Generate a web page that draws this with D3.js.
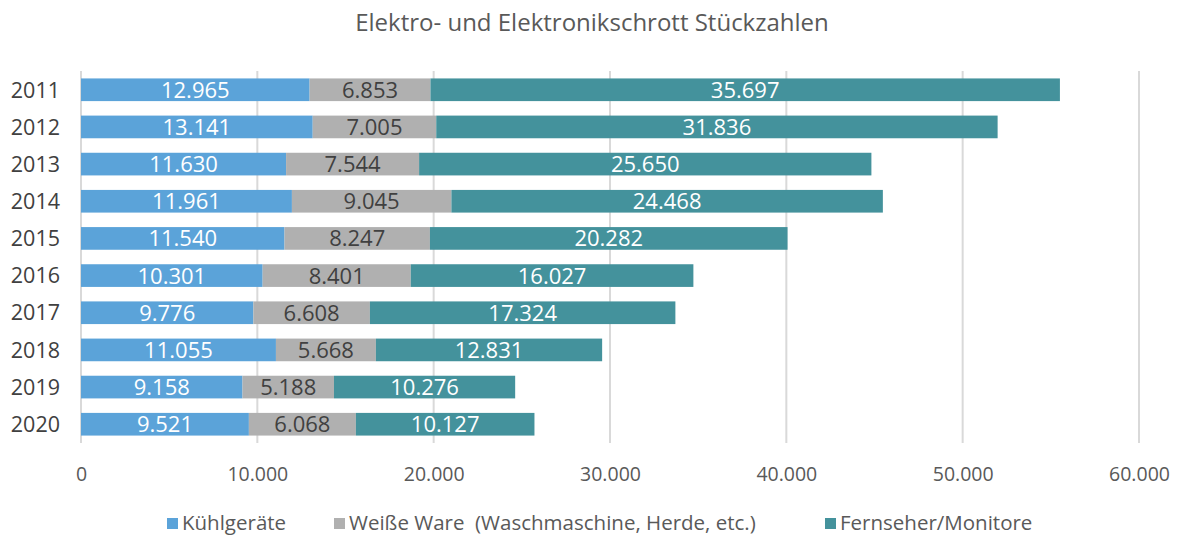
<!DOCTYPE html>
<html>
<head>
<meta charset="utf-8">
<script src="https://cdnjs.cloudflare.com/ajax/libs/d3/7.8.5/d3.min.js"></script>
<style>
  body { margin: 0; background: #fff; }
  text { font-family: "Open Sans", Lato, sans-serif; }
</style>
</head>
<body>
<div id="chart"></div>
<script>
// data
var years = ["2011", "2012", "2013", "2014", "2015", "2016", "2017", "2018", "2019", "2020"];
var kuehl = [12965, 13141, 11630, 11961, 11540, 10301, 9776, 11055, 9158, 9521];
var weiss = [6853, 7005, 7544, 9045, 8247, 8401, 6608, 5668, 5188, 6068];
var fernseher = [35697, 31836, 25650, 24468, 20282, 16027, 17324, 12831, 10276, 10127];
var seriesNames = ["Kühlgeräte", "Weiße Ware  (Waschmaschine, Herde, etc.)", "Fernseher/Monitore"];
var xTicks = [0, 10000, 20000, 30000, 40000, 50000, 60000];

var colors = ["#5ba3d9", "#b0b0b0", "#44929c"];
var labelColors = ["#ffffff", "#404040", "#ffffff"];

var W = 1182, H = 538;
var margin = {top: 71, right: 43, bottom: 95, left: 81};
var width = W - margin.left - margin.right,
    height = H - margin.top - margin.bottom;

var de = d3.formatLocale({decimal: ",", thousands: ".", grouping: [3], currency: ["", "€"]});
var fmt = de.format(",d");

var svg = d3.select("#chart").append("svg")
    .attr("width", W)
    .attr("height", H);

var g = svg.append("g")
    .attr("transform", "translate(" + margin.left + "," + margin.top + ")");

// build table for stacking
var rows = years.map(function(y, i) {
  return {year: y, k: kuehl[i], w: weiss[i], f: fernseher[i]};
});
var keys = ["k", "w", "f"];
var stacked = d3.stack().keys(keys)(rows);

var x = d3.scaleLinear().domain([0, 60000]).range([0, width]);
var y = d3.scaleBand().domain(years).range([0, height]).paddingInner(0.39).paddingOuter(0.2);

// gridlines
g.append("g")
  .selectAll("line")
  .data(xTicks)
  .enter().append("line")
    .attr("x1", function(d) { return x(d); })
    .attr("x2", function(d) { return x(d); })
    .attr("y1", 0)
    .attr("y2", height)
    .style("stroke", "#d9d9d9")
    .style("stroke-width", 2);

// bars
var layer = g.selectAll(".layer")
  .data(stacked)
  .enter().append("g")
    .attr("class", "layer")
    .style("fill", function(d, i) { return colors[i]; });

layer.selectAll("rect")
  .data(function(d) { return d; })
  .enter().append("rect")
    .attr("x", function(d) { return x(d[0]); })
    .attr("y", function(d) { return y(d.data.year); })
    .attr("width", function(d) { return x(d[1]) - x(d[0]); })
    .attr("height", y.bandwidth());

// data labels
stacked.forEach(function(s, i) {
  g.append("g").selectAll("text")
    .data(s)
    .enter().append("text")
      .attr("x", function(d) { return (x(d[0]) + x(d[1])) / 2; })
      .attr("y", function(d) { return y(d.data.year) + y.bandwidth() / 2; })
      .attr("dy", "0.36em")
      .attr("text-anchor", "middle")
      .style("font-size", "22px")
      .style("fill", labelColors[i])
      .text(function(d) { return fmt(d[1] - d[0]); });
});

// y axis labels
g.append("g").selectAll("text")
  .data(years)
  .enter().append("text")
    .attr("x", -21)
    .attr("y", function(d) { return y(d) + y.bandwidth() / 2; })
    .attr("dy", "0.36em")
    .attr("text-anchor", "end")
    .style("font-size", "21.5px")
    .style("fill", "#404040")
    .text(function(d) { return d; });

// x axis
var xAxis = g.append("g")
  .attr("transform", "translate(0," + height + ")")
  .call(d3.axisBottom(x).tickValues(xTicks).tickSize(0).tickPadding(24).tickFormat(fmt));
xAxis.select(".domain").remove();
xAxis.selectAll("text")
  .style("font-family", "'Open Sans', Lato, sans-serif")
  .style("font-size", "19.5px")
  .style("fill", "#595959");

// title
svg.append("text")
  .attr("x", 592)
  .attr("y", 22)
  .attr("dy", "0.36em")
  .attr("text-anchor", "middle")
  .style("font-size", "24px")
  .style("fill", "#595959")
  .text("Elektro- und Elektronikschrott Stückzahlen");

// legend
var legendX = [167, 334, 825];
var legend = svg.append("g").attr("transform", "translate(0,523)");
seriesNames.forEach(function(n, i) {
  legend.append("rect")
    .attr("x", legendX[i])
    .attr("y", -5)
    .attr("width", 11)
    .attr("height", 11)
    .style("fill", colors[i]);
  legend.append("text")
    .attr("x", legendX[i] + 15)
    .attr("y", 0)
    .attr("dy", "0.36em")
    .style("font-size", "20.5px")
    .style("fill", "#595959")
    .attr("xml:space", "preserve")
    .style("white-space", "pre")
    .text(n);
});
</script>
</body>
</html>
